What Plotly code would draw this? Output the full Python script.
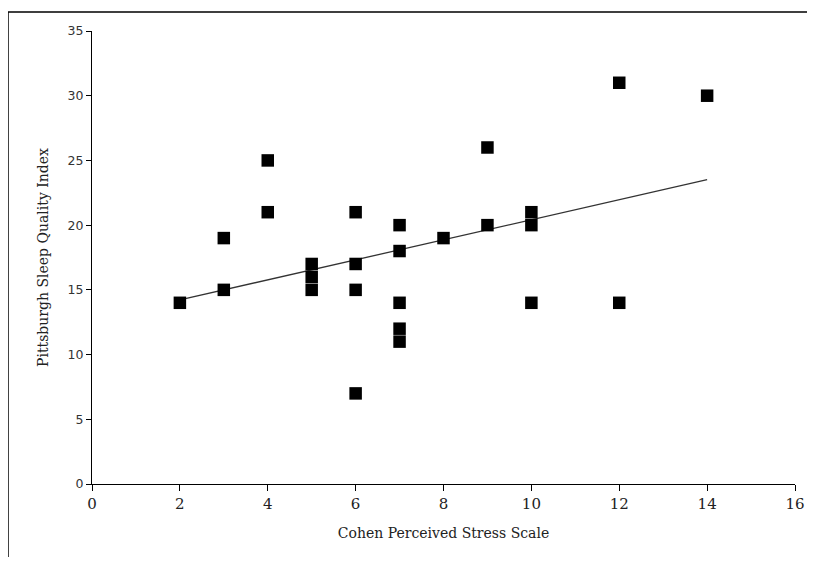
import numpy as np
import plotly.graph_objects as go

stress = [2, 3, 3, 4, 4, 5, 5, 5, 6, 6, 6, 6, 7, 7, 7, 7, 7, 8, 9, 9, 10, 10, 10, 12, 12, 14]
sleep = [14, 19, 15, 25, 21, 17, 16, 15, 21, 17, 15, 7, 20, 18, 14, 12, 11, 19, 26, 20, 21, 20, 14, 31, 14, 30]
x_ticks = [0, 2, 4, 6, 8, 10, 12, 14, 16]
y_ticks = [0, 5, 10, 15, 20, 25, 30, 35]

slope, intercept = np.polyfit(stress, sleep, 1)
fit_x = [min(stress), max(stress)]
fit_y = [slope * v + intercept for v in fit_x]

fig = go.Figure()
fig.add_trace(go.Scatter(x=fit_x, y=fit_y, mode="lines",
                         line=dict(color="#333333", width=1.3), hoverinfo="skip"))
fig.add_trace(go.Scatter(x=stress, y=sleep, mode="markers",
                         marker=dict(symbol="square", size=12.5, color="black",
                                     line=dict(width=0))))

serif = "DejaVu Serif, serif"
fig.update_layout(
    width=799, height=549,
    margin=dict(l=84, r=12, t=23, b=73),
    paper_bgcolor="white", plot_bgcolor="white",
    showlegend=False,
    xaxis=dict(range=[0, 16], tickvals=x_ticks, showgrid=False, zeroline=False,
               automargin=False,
               showline=True, linecolor="black", linewidth=1.3,
               ticks="outside", ticklen=6, tickcolor="black", tickwidth=1.3,
               tickfont=dict(family=serif, size=15, color="#222"),
               title=dict(text="Cohen Perceived Stress Scale", standoff=16,
                          font=dict(family=serif, size=14, color="#222"))),
    yaxis=dict(range=[0, 35], tickvals=y_ticks, showgrid=False, zeroline=False,
               automargin=False,
               showline=True, linecolor="black", linewidth=1.3,
               ticks="outside", ticklen=5, tickcolor="black", tickwidth=1.3,
               tickfont=dict(family="DejaVu Sans, sans-serif", size=12.5, color="#333"),
               title=dict(text="Pittsburgh Sleep Quality Index", standoff=15,
                          font=dict(family=serif, size=14, color="#222"))),
    shapes=[dict(type="rect", xref="paper", yref="paper",
                 x0=-0.1195, x1=1.2, y0=-0.4, y1=1.0419,
                 line=dict(color="black", width=1.5), fillcolor="rgba(0,0,0,0)",
                 layer="below")],
)
fig.write_html("out.html")
